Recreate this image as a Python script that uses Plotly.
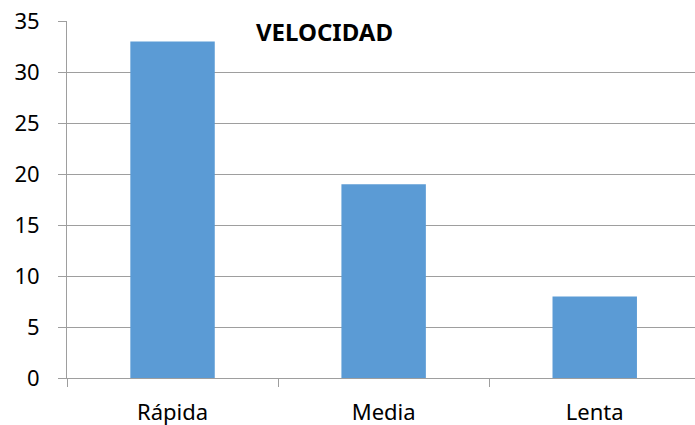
import plotly.graph_objects as go

categories = ["Rápida", "Media", "Lenta"]
values = [33, 19, 8]
y_ticks = [0, 5, 10, 15, 20, 25, 30, 35]

W, H = 695, 425
left, right, top, bottom = 66.5, 0, 21, 47

fig = go.Figure(go.Bar(x=categories, y=values, marker=dict(color="#5B9BD5", line=dict(width=0)), width=0.4))

fig.update_layout(
    width=W, height=H,
    margin=dict(l=left, r=right, t=top, b=bottom, pad=0),
    paper_bgcolor="white", plot_bgcolor="white",
    showlegend=False,
    font=dict(family="Noto Sans", size=22, color="black"),
    xaxis=dict(
        type="category", range=[-0.5, 2.475],
        showline=True, linecolor="#9e9e9e", linewidth=1,
        ticks="outside", ticklen=8, tickcolor="#9e9e9e", tickson="boundaries",
        showgrid=False, ticklabelstandoff=15,
    ),
    yaxis=dict(
        range=[0, 35], tickvals=y_ticks,
        showline=True, linecolor="#9e9e9e", linewidth=1,
        ticks="outside", ticklen=8, tickcolor="#9e9e9e",
        showgrid=True, gridcolor="#9e9e9e", gridwidth=1,
        zeroline=False, ticklabelstandoff=14,
    ),
    annotations=[dict(
        text="<b>VELOCIDAD</b>", xref="paper", yref="paper",
        x=(324 - left) / (W - left), y=1 - (31.5 - top) / (H - top - bottom),
        xanchor="center", yanchor="middle", showarrow=False,
        font=dict(family="Noto Sans", size=24, color="black"),
    )],
)

fig.write_html(
    "out.html",
    config={"displayModeBar": False},
    post_script="document.body.style.margin='0';document.body.style.overflow='hidden';",
)
